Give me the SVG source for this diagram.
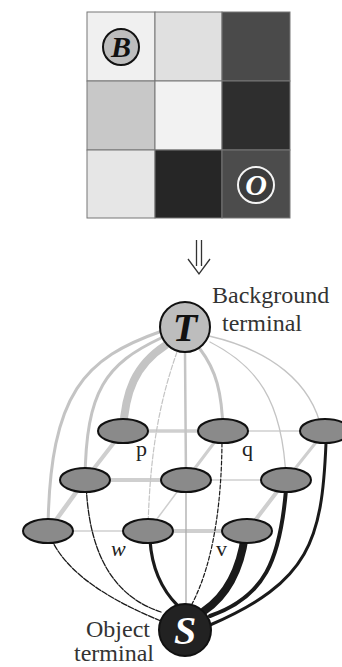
<svg xmlns="http://www.w3.org/2000/svg" width="342" height="667" viewBox="0 0 342 667">
<style>
.cell{stroke:#777;stroke-width:1}
.tl{fill:none;stroke:#c4c4c4;stroke-linecap:round}
.nl{fill:none;stroke:#cfcfcf;stroke-linecap:round}
.sl{fill:none;stroke:#1a1a1a;stroke-linecap:round}
.pix{fill:#8a8a8a;stroke:#111;stroke-width:2}
.lab{font-family:"Liberation Serif",serif;font-size:22px;fill:#222}
.cap{font-family:"Liberation Serif",serif;font-size:24px;fill:#333}
.big{font-family:"Liberation Serif",serif;font-weight:bold;font-style:italic;text-anchor:middle}
</style>
<rect width="342" height="667" fill="#fff"/>
<g id="image-grid">
<rect class="cell" x="87" y="12" width="68" height="69" fill="#f0f0f0"/>
<rect class="cell" x="155" y="12" width="67" height="69" fill="#e0e0e0"/>
<rect class="cell" x="222" y="12" width="68" height="69" fill="#4a4a4a"/>
<rect class="cell" x="87" y="81" width="68" height="69" fill="#c8c8c8"/>
<rect class="cell" x="155" y="81" width="67" height="69" fill="#f2f2f2"/>
<rect class="cell" x="222" y="81" width="68" height="69" fill="#2e2e2e"/>
<rect class="cell" x="87" y="150" width="68" height="68" fill="#e6e6e6"/>
<rect class="cell" x="155" y="150" width="67" height="68" fill="#262626"/>
<rect class="cell" x="222" y="150" width="68" height="68" fill="#4c4c4c"/>
</g>
<g id="seed-B">
<circle cx="121" cy="47" r="18" fill="#bdbdbd" stroke="#111" stroke-width="2"/>
<text class="big" x="121" y="57" font-size="30" fill="#111">B</text>
</g>
<g id="seed-O">
<circle cx="256" cy="185" r="18" fill="#3c3c3c" stroke="#f4f4f4" stroke-width="2"/>
<text class="big" x="256" y="195" font-size="30" fill="#fff">O</text>
</g>
<g id="arrow" fill="none" stroke="#333" stroke-width="1.3">
<path d="M196.5,240 V266 M201.5,240 V266"/>
<path d="M188,259 L199,274 L210,259"/>
</g>
<g id="connectors">
<path class="nl" d="M123,431 L223,431" stroke-width="3.5"/>
<path class="nl" d="M223,431 L325,431" stroke-width="1.5"/>
<path class="nl" d="M85,480 L186,480" stroke-width="4"/>
<path class="nl" d="M186,480 L286,480" stroke-width="1.5"/>
<path class="nl" d="M48,531 L148,531" stroke-width="1.5"/>
<path class="nl" d="M148,531 L247,531" stroke-width="4"/>
<path class="nl" d="M123,431 L85,480" stroke-width="4"/>
<path class="nl" d="M223,431 L186,480" stroke-width="3"/>
<path class="nl" d="M325,431 L286,480" stroke-width="3"/>
<path class="nl" d="M85,480 L48,531" stroke-width="4.5"/>
<path class="nl" d="M186,480 L148,531" stroke-width="1.5"/>
<path class="nl" d="M286,480 L247,531" stroke-width="4"/>
<path class="tl" d="M162,331 C85,358 50,392 48,528" stroke-width="3"/>
<path class="tl" d="M161,338 C106,364 86,390 85,480" stroke-width="3"/>
<path class="tl" d="M166,345 C135,365 125,392 123,431" stroke-width="8"/>
<path class="tl" d="M177,352 C160,400 150,450 148,528" stroke-width="1.2" stroke-dasharray="5 2"/>
<path class="tl" d="M185,352 L186,480" stroke-width="2.5"/>
<path class="tl" d="M200,349 C216,370 222,392 223,431" stroke-width="3"/>
<path class="tl" d="M210,342 C255,365 283,398 286,480" stroke-width="1.3"/>
<path class="tl" d="M209,336 C270,350 312,382 322,431" stroke-width="1.3"/>
<path class="sl" d="M48,531 C62,572 110,600 161,621" stroke-width="1.3" stroke-dasharray="6 1.5"/>
<path class="sl" d="M86,480 C88,560 118,598 161,612" stroke-width="1.3" stroke-dasharray="6 1.5"/>
<path fill="none" stroke="#aaa" stroke-width="1.3" d="M186,480 L186,604"/>
<path class="sl" d="M222,437 C222,500 214,562 192,604" stroke-width="1.2" stroke-dasharray="4 2"/>
<path class="sl" d="M150,540 C152,572 164,592 178,606" stroke-width="3.2"/>
<path class="sl" d="M245,535 C240,572 226,596 204,611" stroke-width="8"/>
<path class="sl" d="M286,490 C280,560 265,597 210,616" stroke-width="4"/>
<path class="sl" d="M326,443 C322,540 310,582 210,625" stroke-width="3"/>
</g>
<g id="node-p"><ellipse class="pix" cx="123" cy="431" rx="25" ry="12"/></g>
<g id="node-q"><ellipse class="pix" cx="223" cy="431" rx="25" ry="12"/></g>
<g id="node-r1c3"><ellipse class="pix" cx="325" cy="431" rx="25" ry="12"/></g>
<g id="node-r2c1"><ellipse class="pix" cx="85" cy="480" rx="25" ry="12"/></g>
<g id="node-r2c2"><ellipse class="pix" cx="186" cy="480" rx="25" ry="12"/></g>
<g id="node-r2c3"><ellipse class="pix" cx="286" cy="480" rx="25" ry="12"/></g>
<g id="node-r3c1"><ellipse class="pix" cx="48" cy="531" rx="25" ry="12"/></g>
<g id="node-w"><ellipse class="pix" cx="148" cy="531" rx="25" ry="12"/></g>
<g id="node-v"><ellipse class="pix" cx="247" cy="531" rx="25" ry="12"/></g>
<g id="labels">
<text class="lab" x="136" y="456">p</text>
<text class="lab" x="242" y="456">q</text>
<text class="lab" x="111" y="556" font-style="italic">w</text>
<text class="lab" x="216" y="556">v</text>
</g>
<g id="node-T">
<circle cx="185" cy="327" r="25" fill="#bdbdbd" stroke="#111" stroke-width="2"/>
<text class="big" x="185" y="341" font-size="40" fill="#111">T</text>
<text class="cap" x="212" y="303">Background</text>
<text class="cap" x="222" y="331">terminal</text>
</g>
<g id="node-S">
<circle cx="185" cy="630" r="26" fill="#222" stroke="#111" stroke-width="2"/>
<text class="big" x="185" y="644" font-size="40" fill="#fff">S</text>
<text class="cap" x="86" y="637">Object</text>
<text class="cap" x="74" y="661" font-size="23">terminal</text>
</g>
</svg>
